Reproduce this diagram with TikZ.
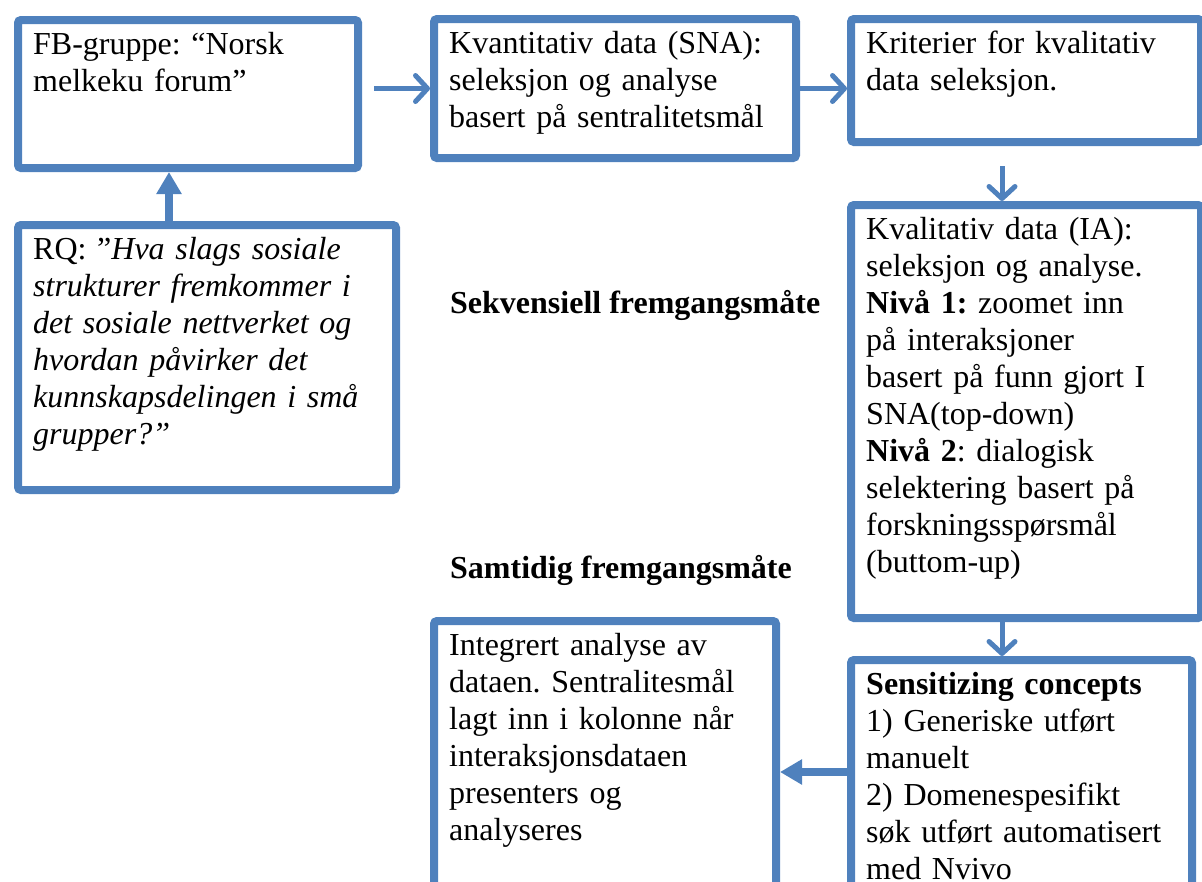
\documentclass[tikz,border=0pt]{standalone}
\usepackage{fontspec}
\setmainfont{Liberation Serif}
\usetikzlibrary{arrows.meta}
\definecolor{blaa}{RGB}{79,129,189}
\frenchspacing

\begin{document}
\begin{tikzpicture}[x=1pt,y=-1pt,
  boks/.style={draw=blaa,line width=8pt,rounded corners=3pt,inner sep=0pt,anchor=north west},
  txt/.style={anchor=north west,inner sep=0pt,align=left,font=\fontsize{32}{37}\selectfont\frenchspacing},
  tynn/.style={draw=blaa,line width=5pt,-{Straight Barb[length=12pt,width=26pt,round]}},
  tykk/.style={draw=blaa,line width=8pt,-{Triangle[length=22pt,width=24pt]}}]
  \clip (0,0) rectangle (1202,881);
  % boxes
  \node[boks,minimum width=340,minimum height=148] (fb) at (14,16) {};
  \node[boks,minimum width=378,minimum height=265] (rq) at (14,221) {};
  \node[boks,minimum width=362,minimum height=139] (sna) at (430,15) {};
  \node[boks,minimum width=350,minimum height=123] (krit) at (847,15) {};
  \node[boks,minimum width=350,minimum height=413] (ia) at (847,201) {};
  \node[boks,minimum width=341,minimum height=260] (sens) at (847,656) {};
  \node[boks,minimum width=342,minimum height=302] (integ) at (430,617) {};
  % texts
  \node[txt,text width=320] (fbtxt) at ([xshift=19pt,yshift=-12pt]fb.north west)
    {\strut FB-gruppe: “Norsk\\melkeku forum”};
  \node[txt,text width=355] (rqtxt) at ([xshift=19pt,yshift=-12pt]rq.north west)
    {\strut RQ: ”\textit{Hva slags sosiale\\strukturer fremkommer i\\det sosiale nettverket og\\hvordan påvirker det\\kunnskapsdelingen i små\\grupper?”}};
  \node[txt,text width=340] (snatxt) at ([xshift=19pt,yshift=-12pt]sna.north west)
    {\strut Kvantitativ data (SNA):\\seleksjon og analyse\\basert på sentralitetsmål};
  \node[txt,text width=325] (krittxt) at ([xshift=19pt,yshift=-12pt]krit.north west)
    {\strut Kriterier for kvalitativ\\data seleksjon.};
  \node[txt,text width=325] (iatxt) at ([xshift=19pt,yshift=-12pt]ia.north west)
    {\strut Kvalitativ data (IA):\\seleksjon og analyse.\\\textbf{Nivå 1:} zoomet inn\\på interaksjoner\\basert på funn gjort I\\SNA(top-down)\\\textbf{Nivå 2}: dialogisk\\selektering basert på\\forskningsspørsmål\\(buttom-up)};
  \node[txt,text width=320] (senstxt) at ([xshift=19pt,yshift=-12pt]sens.north west)
    {\strut\textbf{Sensitizing concepts}\\1) Generiske utført\\manuelt\\2) Domenespesifikt\\søk utført automatisert\\med Nvivo};
  \node[txt,text width=320] (integtxt) at ([xshift=19pt,yshift=-12pt]integ.north west)
    {\strut Integrert analyse av\\dataen. Sentralitesmål\\lagt inn i kolonne når\\interaksjonsdataen\\presenters og\\analyseres};
  % side labels
  \node[anchor=base west,inner sep=0pt,font=\fontsize{32}{37}\selectfont\bfseries] (sekv) at (450,313) {Sekvensiell fremgangsmåte};
  \node[anchor=base west,inner sep=0pt,font=\fontsize{32}{37}\selectfont\bfseries] (samt) at (450,578) {Samtidig fremgangsmåte};
  % arrows
  \draw[tykk] ([xshift=-38pt]rq.north) -- ([xshift=-19pt]fb.south);
  \draw[tynn] ([xshift=12pt]fb.east |- sna.west) -- (sna.west);
  \draw[tynn] ([xshift=-6pt]sna.east) -- (krit.west |- sna.east);
  \draw[tynn] ([xshift=-24pt,yshift=-20pt]krit.south) -- ([xshift=-24pt]ia.north);
  \draw[tynn] ([xshift=-24pt]ia.south) -- ([xshift=-24pt]ia.south |- sens.north);
  \draw[tykk] (sens.west |- integ.east) -- (integ.east);
\end{tikzpicture}
\end{document}
